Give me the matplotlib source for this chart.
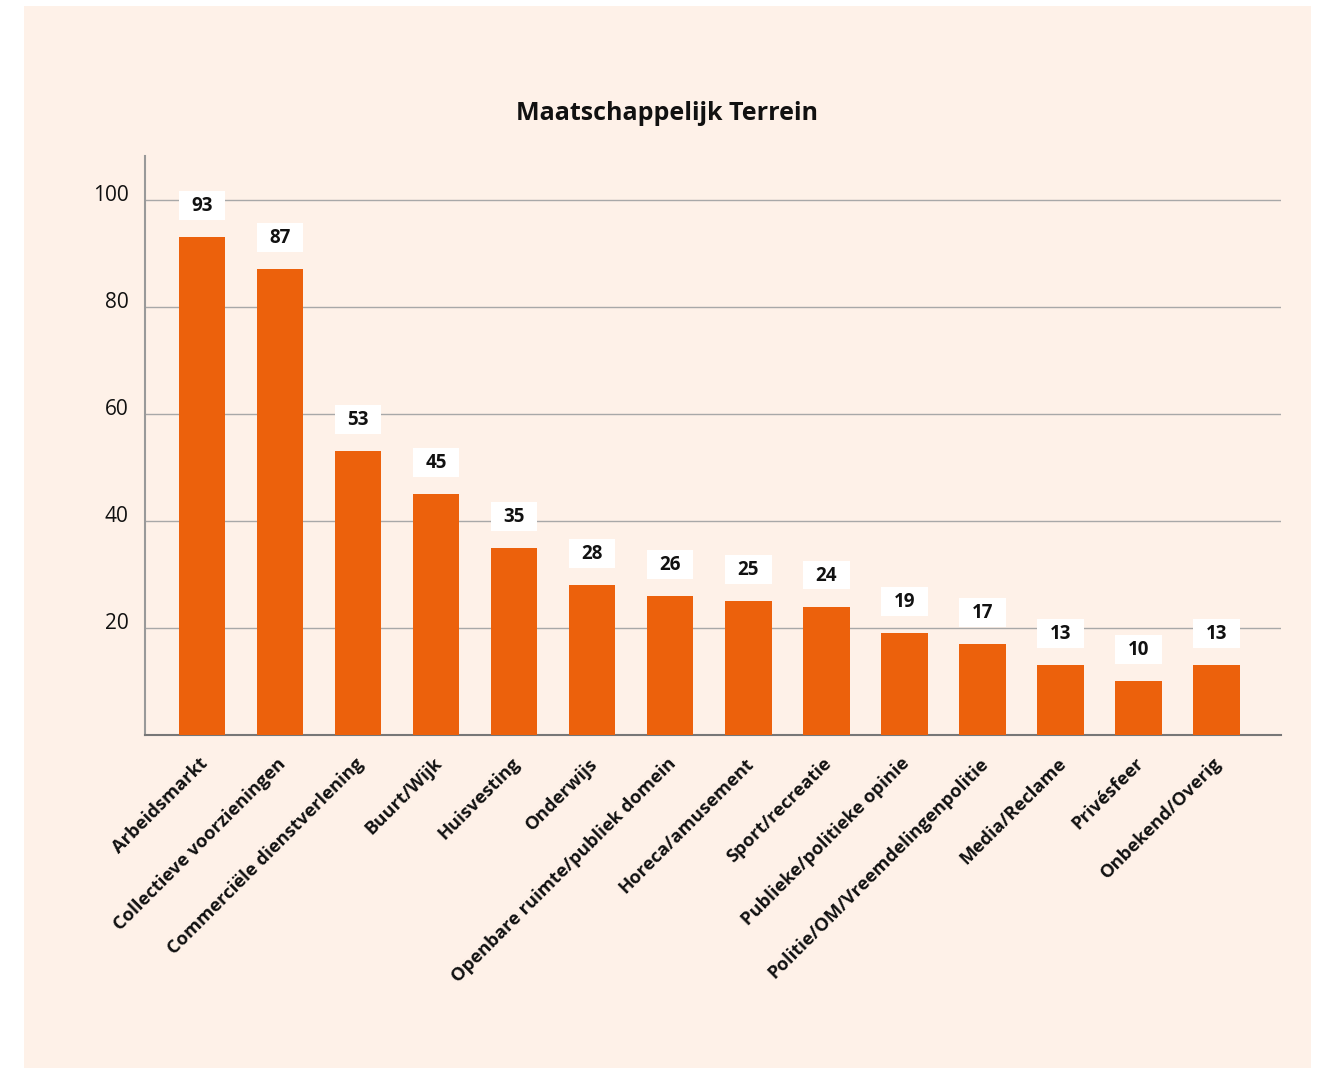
import matplotlib
matplotlib.use("Agg")
import matplotlib.pyplot as plt
from matplotlib.patches import Rectangle
import matplotlib.transforms as mtransforms

categories = [
    "Arbeidsmarkt", "Collectieve voorzieningen", "Commerciële dienstverlening",
    "Buurt/Wijk", "Huisvesting", "Onderwijs", "Openbare ruimte/publiek domein",
    "Horeca/amusement", "Sport/recreatie", "Publieke/politieke opinie",
    "Politie/OM/Vreemdelingenpolitie", "Media/Reclame", "Privésfeer",
    "Onbekend/Overig",
]
values = [93, 87, 53, 45, 35, 28, 26, 25, 24, 19, 17, 13, 10, 13]
y_ticks = [20, 40, 60, 80, 100]
title = "Maatschappelijk Terrein"

BG = "#fef1e8"
BAR = "#ec610c"
FONT = "Open Sans"

fig = plt.figure(figsize=(13.26, 10.69), dpi=100)
fig.patch.set_facecolor("white")
fig.patches.append(Rectangle((24 / 1326, 1 - 1068 / 1069), (1311 - 24) / 1326,
                             (1068 - 6) / 1069, transform=fig.transFigure,
                             facecolor=BG, edgecolor="none", zorder=-10))

ax = fig.add_axes([145 / 1326, 1 - 735 / 1069, (1281 - 145) / 1326, (735 - 156) / 1069])
ax.set_zorder(5)
ax.set_facecolor("none")

x = list(range(len(categories)))
ax.bar(x, values, width=0.6, color=BAR, zorder=3)

ax.set_xlim(-0.73, 13.83)
ax.set_ylim(0, 108.2)
ax.set_yticks(y_ticks)
ax.set_yticklabels([str(t) for t in y_ticks], fontfamily=FONT, fontsize=15, color="#111111")
ax.tick_params(axis="y", length=0, pad=12)
ax.tick_params(axis="x", length=0)
ax.grid(axis="y", color="#a8a8a8", linewidth=1.0, zorder=1)
ax.set_axisbelow(True)
ylab_shift = mtransforms.ScaledTranslation(0, 7 / 100, fig.dpi_scale_trans)
for lab in ax.get_yticklabels():
    lab.set_transform(lab.get_transform() + ylab_shift)

for side in ("top", "right"):
    ax.spines[side].set_visible(False)
ax.spines["left"].set_color("#999999")
ax.spines["left"].set_linewidth(1.5)
ax.spines["bottom"].set_color("#777777")
ax.spines["bottom"].set_linewidth(1.5)

ax.set_xticks(x)
ax.set_xticklabels(categories, rotation=45, ha="right", va="center",
                   rotation_mode="anchor", fontfamily=FONT, fontweight="bold",
                   fontsize=13.2, color="#111111")
offset = mtransforms.ScaledTranslation(3 / 100, -21 / 100, fig.dpi_scale_trans)
for lab in ax.get_xticklabels():
    lab.set_transform(lab.get_transform() + offset)

# value labels in white boxes above each bar
for xi, v in zip(x, values):
    ax.add_patch(Rectangle((xi - 0.3, v + 3.2), 0.6, 5.4, facecolor="white",
                           edgecolor="none", zorder=4))
    ax.text(xi, v + 3.2 + 2.6, str(v), ha="center", va="center",
            fontfamily=FONT, fontweight="bold", fontsize=13.5, color="#111111", zorder=5)

fig.text(667 / 1326, 1 - 114 / 1069, title, ha="center", va="center",
         fontfamily=FONT, fontweight="bold", fontsize=18, color="#111111")

fig.savefig("out.png", dpi=100, facecolor=fig.get_facecolor())
